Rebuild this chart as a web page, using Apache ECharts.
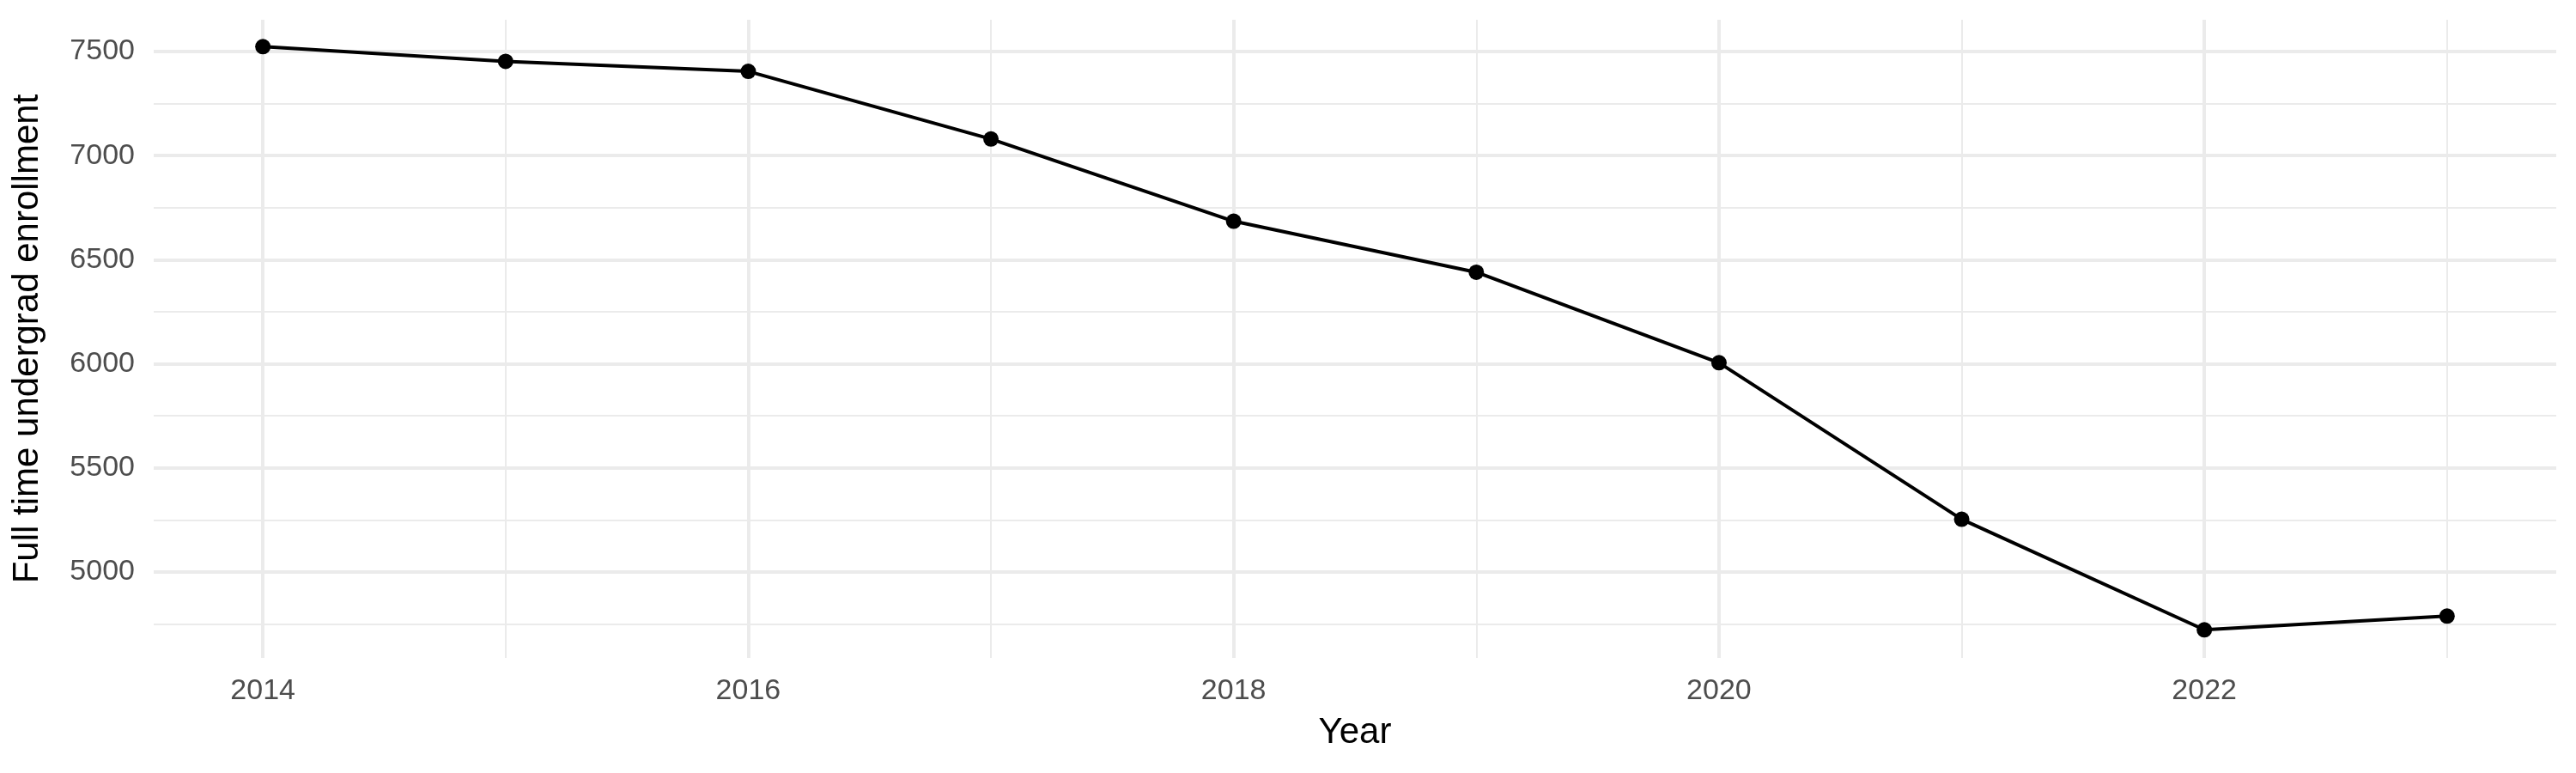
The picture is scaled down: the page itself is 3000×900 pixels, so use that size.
<!DOCTYPE html>
<html><head><meta charset="utf-8">
<script src="https://cdn.jsdelivr.net/npm/echarts@6/dist/echarts.min.js"></script>
<style>html,body{margin:0;padding:0;background:#fff}#c{width:3000px;height:900px}</style>
</head><body><div id="c"></div>
<script>
const years = [2014,2015,2016,2017,2018,2019,2020,2021,2022,2023];
const enrollment = [7524,7453,7405,7080,6685,6440,6005,5253,4722,4788];
const xTicks = [2014,2016,2018,2020,2022];
const xMinor = [2015,2017,2019,2021,2023];
const yTicks = [5000,5500,6000,6500,7000,7500];
const yMinor = [4750,5250,5750,6250,6750,7250];
const font = 'Liberation Sans';
const grid = '#ebebeb';
const chart = echarts.init(document.getElementById('c'));
chart.setOption({
  animation:false,
  grid:{left:179,right:23,top:23,bottom:134},
  xAxis:{type:'value',min:2013.55,max:2023.45,name:'Year',nameLocation:'middle',nameGap:66,
    nameTextStyle:{fontFamily:font,fontSize:42,color:'#000'},
    axisLine:{show:false},axisTick:{show:false},splitLine:{show:false},
    axisLabel:{customValues:xTicks,formatter:v=>String(v),fontFamily:font,fontSize:34,color:'#4d4d4d',margin:22}},
  yAxis:{type:'value',min:4587,max:7653,name:'Full time undergrad enrollment',nameLocation:'middle',nameGap:126,
    nameTextStyle:{fontFamily:font,fontSize:42,color:'#000'},
    axisLine:{show:false},axisTick:{show:false},splitLine:{show:false},
    axisLabel:{customValues:yTicks,formatter:v=>String(v),fontFamily:font,fontSize:34,color:'#4d4d4d',margin:22}},
  series:[{type:'line',data:years.map((y,i)=>[y,enrollment[i]]),
    lineStyle:{color:'#000',width:4},itemStyle:{color:'#000'},symbol:'circle',symbolSize:18,
    markLine:{silent:true,symbol:'none',label:{show:false},animation:false,z:0,
      data:[
        ...xTicks.map(v=>({xAxis:v,lineStyle:{color:grid,width:4,type:'solid'}})),
        ...xMinor.map(v=>({xAxis:v,lineStyle:{color:grid,width:2,type:'solid'}})),
        ...yTicks.map(v=>({yAxis:v,lineStyle:{color:grid,width:4,type:'solid'}})),
        ...yMinor.map(v=>({yAxis:v,lineStyle:{color:grid,width:2,type:'solid'}}))
      ]}}]
});
</script></body></html>
